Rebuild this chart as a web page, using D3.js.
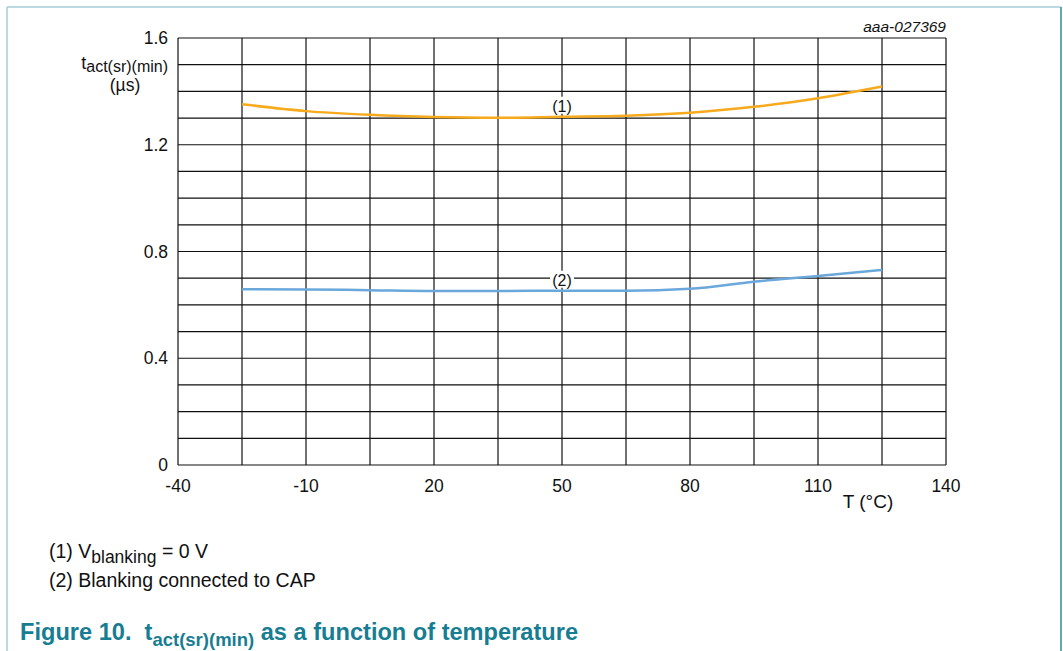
<!DOCTYPE html>
<html><head><meta charset="utf-8">
<script src="https://cdn.jsdelivr.net/npm/d3@7"></script>
<style>body{margin:0;background:#fff}svg{display:block}text{font-family:"Liberation Sans",Arial,sans-serif}</style>
</head><body>
<svg id="c" width="1063" height="651"></svg>
<script>
const temps = [-25, -10, 5, 20, 35, 50, 65, 80, 95, 110, 125];
const series1 = [1.352, 1.326, 1.312, 1.304, 1.301, 1.305, 1.309, 1.320, 1.342, 1.374, 1.418];
const series2 = [0.659, 0.658, 0.655, 0.652, 0.652, 0.653, 0.653, 0.660, 0.687, 0.708, 0.731];
const xTicks = [-40, -10, 20, 50, 80, 110, 140];
const yTicks = [0, 0.4, 0.8, 1.2, 1.6];
const seriesLabels = ["(1)", "(2)"];

const svg = d3.select("#c");
const x = d3.scaleLinear().domain([-40, 140]).range([178, 946]);
const y = d3.scaleLinear().domain([0, 1.6]).range([465, 38]);

// frame
svg.append("line").attr("x1",7).attr("x2",7).attr("y1",7).attr("y2",651).attr("stroke","#a6ccd8").attr("stroke-width",1.5);
svg.append("line").attr("x1",7).attr("x2",1061).attr("y1",7).attr("y2",7).attr("stroke","#a6ccd8").attr("stroke-width",1.5);
svg.append("line").attr("x1",1061).attr("x2",1061).attr("y1",7).attr("y2",651).attr("stroke","#2e8ba3").attr("stroke-width",1.5);

// grid
const g = svg.append("g");
g.selectAll(".vg").data(d3.range(-40, 141, 15)).join("line")
  .attr("x1", d=>x(d)).attr("x2", d=>x(d)).attr("y1", y(0)).attr("y2", y(1.6))
  .attr("stroke","#111").attr("stroke-width",1.2);
g.selectAll(".hg").data(d3.range(0, 17).map(i=>i/10)).join("line")
  .attr("x1", x(-40)).attr("x2", x(140)).attr("y1", d=>y(d)).attr("y2", d=>y(d))
  .attr("stroke","#111").attr("stroke-width",1.2);

// tick labels
svg.selectAll(".yt").data(yTicks).join("text")
  .attr("x", 168).attr("y", d=>y(d)+6).attr("text-anchor","end")
  .attr("font-size",17.5).attr("fill","#111").text(d=>d===0?"0":d3.format(".1f")(d));
svg.selectAll(".xt").data(xTicks).join("text")
  .attr("x", d=>x(d)).attr("y", 492).attr("text-anchor","middle")
  .attr("font-size",17.5).attr("fill","#111").text(d=>d);

// axis titles
const yt = svg.append("text").attr("x",168).attr("y",69).attr("text-anchor","end").attr("font-size",18).attr("fill","#111");
yt.append("tspan").text("t");
yt.append("tspan").attr("font-size",16).attr("dy",3).text("act(sr)(min)");
svg.append("text").attr("x",125).attr("y",91).attr("text-anchor","middle").attr("font-size",17.5).attr("fill","#111").text("(µs)");
svg.append("text").attr("x",868).attr("y",508).attr("text-anchor","middle").attr("font-size",19).attr("fill","#111").text("T (°C)");
svg.append("text").attr("x",946).attr("y",32).attr("text-anchor","end").attr("font-size",15.5).attr("font-style","italic").attr("fill","#111").text("aaa-027369");

// lines
const line = d3.line().x((d,i)=>x(temps[i])).y(d=>y(d)).curve(d3.curveMonotoneX);
svg.append("path").attr("d", line(series1)).attr("fill","none").attr("stroke","#f6aa1c").attr("stroke-width",2.5);
svg.append("path").attr("d", line(series2)).attr("fill","none").attr("stroke","#6aa8dc").attr("stroke-width",2.5);

// series labels
[[series1, seriesLabels[0]], [series2, seriesLabels[1]]].forEach(([s, lab]) => {
  const cx = x(50), cy = y(s[5]) - 11;
  svg.append("rect").attr("x", cx-12).attr("y", cy-9).attr("width",24).attr("height",17).attr("fill","#fff");
  svg.append("text").attr("x",cx).attr("y",cy+6).attr("text-anchor","middle").attr("font-size",16).attr("fill","#111").text(lab);
});

// footnotes
const f1 = svg.append("text").attr("x",49).attr("y",558).attr("font-size",19.5).attr("fill","#111");
f1.append("tspan").text("(1) V");
f1.append("tspan").attr("font-size",17.5).attr("dy",5).text("blanking");
f1.append("tspan").attr("dy",-5).text(" = 0 V");
svg.append("text").attr("x",49).attr("y",587).attr("font-size",19.5).attr("fill","#111").text("(2) Blanking connected to CAP");

const cap = svg.append("text").attr("x",20).attr("y",640).attr("font-size",23.6).attr("font-weight","bold").attr("fill","#177d92").attr("xml:space","preserve").style("white-space","pre");
cap.append("tspan").text("Figure 10.  t");
cap.append("tspan").attr("font-size",18.5).attr("dy",6).text("act(sr)(min)");
cap.append("tspan").attr("dy",-6).text(" as a function of temperature");
</script>
</body></html>
